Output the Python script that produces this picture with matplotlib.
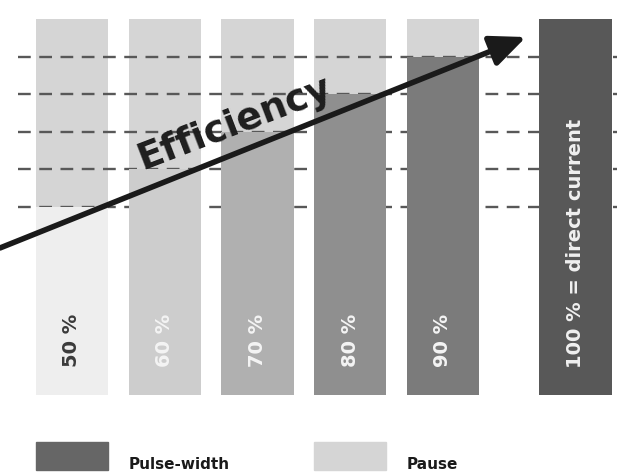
import matplotlib.pyplot as plt
from matplotlib.patches import Rectangle

# duty cycles shown as bars
dutyCycles = [50, 60, 70, 80, 90, 100]
barLabels = ['50 %', '60 %', '70 %', '80 %', '90 %', '100 % = direct current']
pulseColors = ['#eeeeee', '#cdcdcd', '#b0b0b0', '#8f8f8f', '#7b7b7b', '#585858']
labelColors = ['#3a3a3a', '#f4f4f4', '#f4f4f4', '#f4f4f4', '#f4f4f4', '#f0f0f0']
gridLevels = [50, 60, 70, 80, 90]
legendLabels = ['Pulse-width', 'Pause']

pauseColor = '#d5d5d5'
barPositions = [0, 1, 2, 3, 4, 5.43]
barWidth = 0.78

fig = plt.figure(figsize=(6.17, 4.72), dpi=100)
ax = fig.add_axes([0, 0, 1, 1])
ax.set_xlim(-0.776, 5.876)
ax.set_ylim(-20.48, 105.05)
ax.axis('off')

# pause part = full height, behind the dashed lines
ax.bar(barPositions, [100] * len(barPositions), width=barWidth, color=pauseColor, zorder=1)

# dashed efficiency levels
for level in gridLevels:
    ax.plot([-0.58, 5.876], [level, level], color='#585858', lw=1.7,
            linestyle=(0, (5.4, 3.6)), zorder=2)

# pulse part on top
ax.bar(barPositions, dutyCycles, width=barWidth, color=pulseColors, zorder=3)

for pos, label, col, duty in zip(barPositions, barLabels, labelColors, dutyCycles):
    y = 40.3 if duty == 100 else 14.4
    ax.text(pos, y, label, rotation=90, ha='center', va='center', color=col,
            fontsize=14, fontweight='bold', zorder=5)

# efficiency arrow
ax.annotate('', xy=(4.895, 95.2), xytext=(-0.776, 39.1),
            arrowprops=dict(arrowstyle='-|>,head_length=0.8,head_width=0.35',
                            mutation_scale=27, lw=4, color='#1a1a1a',
                            shrinkA=0, shrinkB=0), zorder=6)
ax.text(1.757, 72.2, 'Efficiency', rotation=21, ha='center', va='center',
        fontsize=27, fontweight='bold', color='#1e1e1e', zorder=6,
        rotation_mode='anchor')

# legend
for pos, col, label in zip([0, 3], ['#666666', pauseColor], legendLabels):
    ax.add_patch(Rectangle((pos - barWidth / 2, -19.95), barWidth, 7.45, color=col))
    ax.text(pos + 1 - barWidth / 2, -19.6, label, ha='left', va='baseline',
            fontsize=11, fontweight='bold', color='#1a1a1a')

fig.savefig('out.png', dpi=100)
